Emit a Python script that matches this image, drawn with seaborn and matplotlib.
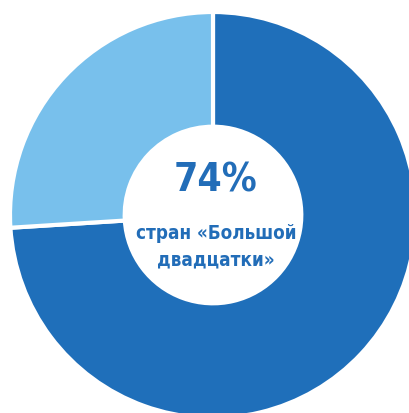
import matplotlib
matplotlib.use("Agg")
import matplotlib.pyplot as plt
import seaborn as sns

# Data
categories = ["страны «Большой двадцатки»", "остальные"]
values = [74, 26]
colors = ["#1F6FBA", "#78C0EC"]
big_label = "74%"
sub_label_1 = "стран «Большой"
sub_label_2 = "двадцатки»"

sns.set_theme(style="white")
plt.rcParams["font.family"] = ["DejaVu Sans"]

fig = plt.figure(figsize=(4.10, 4.14), dpi=100)
ax = fig.add_axes([0, 0, 1, 1])

R = 203.0
cx, cy = 213.0, 216.0
W, H = 410.0, 414.0

ax.pie(values, colors=colors, startangle=90, counterclock=False,
       radius=1.0,
       wedgeprops=dict(width=0.565, edgecolor="white", linewidth=3.0))

ax.set_xlim(-cx / R, (W - cx) / R)
ax.set_ylim(-(H - cy) / R, cy / R)
ax.set_aspect("auto")
ax.axis("off")

txt_color = "#226DB8"
x0 = 3 / R
ax.text(x0, (cy - 192) / R, big_label, ha="center", va="baseline",
        fontsize=28, fontweight="bold", fontstretch="condensed", color=txt_color)
ax.text(x0, (cy - 239) / R, sub_label_1, ha="center", va="baseline",
        fontsize=13.5, fontweight="bold", fontstretch="condensed", color=txt_color)
ax.text(x0, (cy - 265) / R, sub_label_2, ha="center", va="baseline",
        fontsize=13.5, fontweight="bold", fontstretch="condensed", color=txt_color)

fig.savefig("out.png", dpi=100, facecolor="white")
